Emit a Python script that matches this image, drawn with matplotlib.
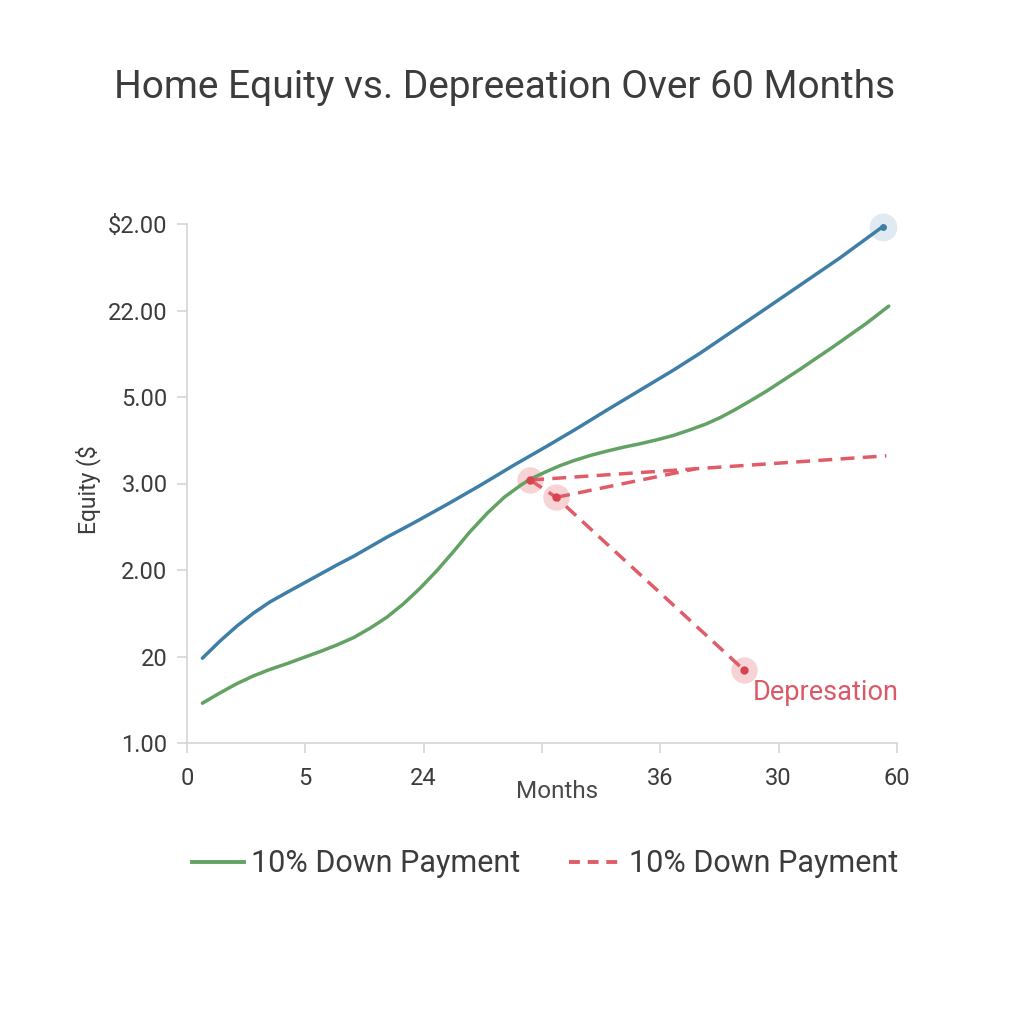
import matplotlib
matplotlib.use("Agg")
import matplotlib.pyplot as plt
from matplotlib.lines import Line2D

plt.rcParams["font.family"] = ["Roboto", "DejaVu Sans"]

# series (months, axis units 0..6)
blue_months = [1.3, 2.8, 4.2, 5.6, 7.0, 8.5, 9.9, 11.3, 12.7, 14.1, 15.5, 16.9, 19.1, 22.0,
               24.8, 27.6, 30.4, 33.0, 35.5, 38.3, 41.1, 43.4, 46.2, 49.0, 52.1, 55.2, 58.8]
blue_vals = [0.98, 1.18, 1.35, 1.50, 1.63, 1.745, 1.85, 1.955, 2.06, 2.16, 2.27, 2.38, 2.54, 2.76,
             2.98, 3.21, 3.43, 3.64, 3.85, 4.08, 4.31, 4.51, 4.77, 5.03, 5.32, 5.61, 5.97]

green_months = [1.3, 2.8, 4.2, 5.6, 7.0, 8.5, 9.9, 11.3, 12.7, 14.1, 15.5, 16.9, 18.3, 19.7,
                21.1, 22.5, 23.9, 25.4, 26.8, 28.2, 29.0, 30.4, 31.5, 32.7, 34.1, 35.5, 36.9,
                38.3, 39.7, 41.1, 42.5, 43.9, 45.1, 46.2, 47.6, 49.0, 51.8, 54.6, 57.4, 59.3]
green_vals = [0.46, 0.58, 0.685, 0.775, 0.85, 0.92, 0.99, 1.06, 1.135, 1.22, 1.33, 1.455, 1.61, 1.79,
              1.99, 2.21, 2.44, 2.66, 2.84, 2.98, 3.05, 3.14, 3.205, 3.265, 3.325, 3.375, 3.42,
              3.46, 3.505, 3.555, 3.62, 3.69, 3.765, 3.845, 3.955, 4.07, 4.32, 4.58, 4.85, 5.05]

# depreciation paths (red dashed)
dep_upper_months = [29.0, 59.1]
dep_upper_vals = [3.04, 3.32]
dep_drop_months = [29.0, 31.2, 47.1]
dep_drop_vals = [3.04, 2.84, 0.84]
dep_lower_months = [31.2, 43.0]
dep_lower_vals = [2.84, 3.17]
dep_marker_months = [29.0, 31.2, 47.1]
dep_marker_vals = [3.04, 2.84, 0.84]

x_ticks = [0, 10, 20, 30, 40, 50, 60]
x_labels = ["0", "5", "24", "", "36", "30", "60"]
y_ticks = [0, 1, 2, 3, 4, 5, 6]
y_labels = ["1.00", "20", "2.00", "3.00", "5.00", "22.00", "$2.00"]

BLUE = "#3f7ea6"
GREEN = "#62a263"
RED = "#e05c68"
TXT = "#3c3c3c"
GRID = "#d6d6d6"

fig = plt.figure(figsize=(10.24, 10.24), dpi=100)
ax = fig.add_axes([187 / 1024, 1 - 743 / 1024, 710 / 1024, 519 / 1024])

ax.plot(blue_months, blue_vals, color=BLUE, lw=2.5, solid_capstyle="round",
        solid_joinstyle="round", zorder=3)
ax.plot(green_months, green_vals, color=GREEN, lw=2.5, solid_capstyle="round",
        solid_joinstyle="round", zorder=3)

dash = dict(color=RED, lw=2.5, dashes=(4, 2.4), zorder=4)
ax.plot(dep_upper_months, dep_upper_vals, **dash)
ax.plot(dep_drop_months, dep_drop_vals, **dash)
ax.plot(dep_lower_months, dep_lower_vals, **dash)

# halo markers
ax.plot(dep_marker_months, dep_marker_vals, "o", ms=19, color="#f5bcc0", alpha=0.65,
        mec="none", zorder=2)
ax.plot(dep_marker_months, dep_marker_vals, "o", ms=6, color="#d9434f", mec="none", zorder=5)
ax.plot(blue_months[-1], blue_vals[-1], "o", ms=20, color="#dbe7f0", alpha=0.85,
        mec="none", zorder=2, clip_on=False)
ax.plot(blue_months[-1], blue_vals[-1], "o", ms=5, color=BLUE, mec="none", zorder=5,
        clip_on=False)

ax.annotate("Depresation", (dep_marker_months[-1], dep_marker_vals[-1]),
            xytext=(6, -16), textcoords="offset points", ha="left", va="center",
            fontsize=19.5, color="#d95a66")

ax.set_xlim(0, 60)
ax.set_ylim(0, 6)
ax.set_xticks(x_ticks, x_labels)
ax.set_yticks(y_ticks, y_labels)
ax.tick_params(axis="both", colors=GRID, labelcolor=TXT, labelsize=17, length=7, width=1.2)
ax.tick_params(axis="x", pad=10)
ax.tick_params(axis="y", pad=7)
for s in ("top", "right"):
    ax.spines[s].set_visible(False)
for s in ("left", "bottom"):
    ax.spines[s].set_color(GRID)
    ax.spines[s].set_linewidth(1.2)

fig.text(557 / 1024, 1 - 792 / 1024, "Months", ha="center", va="center", fontsize=17.5,
         color="#4a4a4a")
fig.text(88 / 1024, 1 - 490 / 1024, "Equity ($", ha="center", va="center", fontsize=16.5,
         color=TXT, rotation=90)
fig.text(505 / 1024, 1 - 87 / 1024, "Home Equity vs. Depreeation Over 60 Months",
         ha="center", va="center", fontsize=28, color=TXT)

handles = [Line2D([], [], color=GREEN, lw=2.8),
           Line2D([], [], color=RED, lw=2.8, dashes=(2.8, 2.0))]
fig.legend(handles, ["10% Down Payment", "10% Down Payment"], loc="center",
           bbox_to_anchor=(545 / 1024, 1 - 864 / 1024), ncol=2, frameon=False,
           fontsize=22, handlelength=1.7, handletextpad=0.25, columnspacing=1.6,
           labelcolor=TXT)

fig.savefig("out.png", dpi=100, facecolor="white")
